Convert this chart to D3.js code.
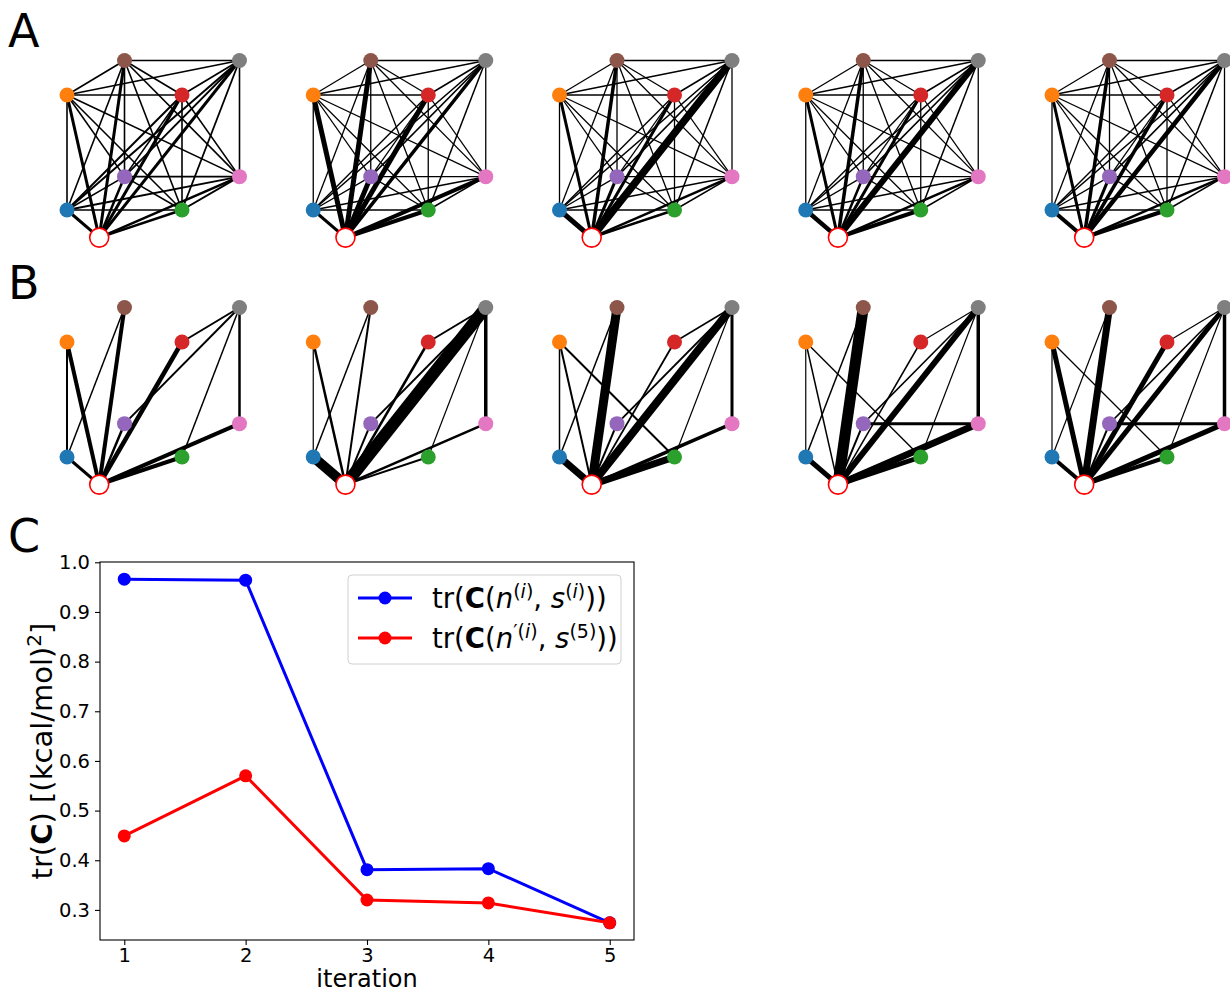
<!DOCTYPE html>
<html>
<head>
<meta charset="utf-8">
<script src="https://cdn.jsdelivr.net/npm/d3@7"></script>
<style>
  body { margin: 0; background: #fff; }
  svg { font-family: "DejaVu Sans", sans-serif; }
</style>
</head>
<body>
<svg id="fig" width="1230" height="992"></svg>
<script>
// graph nodes (layout coordinates of the network drawing)
const nodeNames = ["ref", "blue", "orange", "green", "red", "purple", "brown", "pink", "gray"];
const nodeX = [0.28, 0, 0, 1, 1, 0.5, 0.5, 1.5, 1.5];
const nodeY = [-0.24, 0, 1, 0, 1, 0.29, 1.3, 0.29, 1.3];
const nodeColors = ["#ffffff", "#1f77b4", "#ff7f0e", "#2ca02c", "#d62728", "#9467bd", "#8c564b", "#e377c2", "#7f7f7f"];

// row A: complete graph, weights of edges from ref to blue..gray
const ringWeightsA = [
  [3, 3, 2.5, 3, 2.5, 3, 2.5, 3],
  [3, 5, 4, 5, 5, 5, 4, 3.5],
  [5, 3, 2.5, 3, 3, 3.5, 2.5, 7.5],
  [4.5, 3, 4, 3, 2.5, 3.5, 2.5, 6],
  [4, 3, 4, 3.5, 3, 3.5, 2.5, 4.5]
];
// other pairs, in order Bl-Or Bl-Gr Bl-Rd Bl-Pu Bl-Br Bl-Pk Bl-Gy Or-Gr Or-Rd Or-Pu Or-Br Or-Pk Or-Gy
// Gr-Rd Gr-Pu Gr-Br Gr-Pk Gr-Gy Rd-Pu Rd-Br Rd-Pk Rd-Gy Pu-Br Pu-Pk Pu-Gy Br-Pk Br-Gy Pk-Gy
const otherWeightsA = [
  [1.6, 1.6, 2, 1.6, 1.6, 1.8, 2, 1.6, 1.6, 1.6, 1.6, 1.6, 1.6, 1.6, 1.6, 1.6, 2, 1.8, 1.6, 1.6, 1.6, 1.8, 1.6, 1.6, 1.8, 1.6, 1.6, 1.6],
  [1.3, 1.3, 1.5, 1.3, 1.3, 1.5, 1.6, 1.3, 1.3, 1.3, 1.3, 1.3, 1.3, 1.3, 1.3, 1.3, 1.6, 1.5, 1.3, 1.3, 1.3, 1.5, 1.3, 1.3, 1.6, 1.3, 1.3, 1.3],
  [1.3, 1.3, 1.5, 1.3, 1.3, 1.5, 1.6, 1.3, 1.3, 1.3, 1.3, 1.3, 1.3, 1.3, 1.3, 1.3, 1.5, 1.5, 1.3, 1.3, 1.3, 1.5, 1.3, 1.3, 1.6, 1.3, 1.3, 1.3],
  [1.3, 1.3, 1.5, 1.3, 1.3, 1.5, 1.6, 1.3, 1.3, 1.3, 1.3, 1.3, 1.3, 1.3, 1.3, 1.3, 1.5, 1.5, 1.3, 1.3, 1.3, 1.5, 1.3, 1.3, 1.6, 1.3, 1.3, 1.3],
  [1.3, 1.3, 1.5, 1.3, 1.3, 1.5, 1.6, 1.3, 1.3, 1.3, 1.3, 1.3, 1.3, 1.3, 1.3, 1.3, 1.5, 1.5, 1.3, 1.3, 1.3, 1.5, 1.3, 1.3, 1.6, 1.3, 1.3, 1.3]
];

// row B: sparse graphs [from, to, weight]
const edgesB1 = [
  ["ref", "blue", 3], ["ref", "orange", 4], ["ref", "brown", 4], ["ref", "red", 4.5], ["ref", "purple", 2.5],
  ["ref", "green", 4], ["ref", "pink", 4], ["blue", "orange", 2], ["blue", "brown", 1.5],
  ["gray", "red", 2], ["gray", "purple", 2], ["gray", "green", 1.5], ["gray", "pink", 2.5]
];
const edgesB2 = [
  ["ref", "blue", 10], ["ref", "orange", 2.5], ["ref", "brown", 2], ["ref", "red", 2.5], ["ref", "purple", 2],
  ["ref", "green", 2], ["ref", "pink", 2.5], ["ref", "gray", 12], ["blue", "orange", 1.2], ["blue", "brown", 1.5],
  ["gray", "red", 2], ["gray", "purple", 2], ["gray", "green", 1.2], ["gray", "pink", 3.5]
];
const edgesB3 = [
  ["ref", "blue", 7], ["ref", "orange", 2], ["ref", "brown", 9], ["ref", "red", 1.8], ["ref", "purple", 2],
  ["ref", "green", 7], ["ref", "pink", 3.5], ["ref", "gray", 8], ["blue", "orange", 1.5], ["blue", "brown", 1.5],
  ["orange", "green", 2], ["gray", "red", 1.5], ["gray", "purple", 1.8], ["gray", "green", 1.2], ["gray", "pink", 3]
];
const edgesB4 = [
  ["ref", "blue", 5], ["ref", "orange", 1.5], ["ref", "brown", 11], ["ref", "red", 1.5], ["ref", "purple", 2],
  ["ref", "green", 5], ["ref", "pink", 7], ["ref", "gray", 6], ["blue", "orange", 1.2], ["blue", "brown", 1.5],
  ["orange", "green", 1.5], ["gray", "red", 1.2], ["gray", "purple", 1.5], ["gray", "green", 1.2],
  ["gray", "pink", 3.5], ["purple", "pink", 3]
];
const edgesB5 = [
  ["ref", "blue", 4], ["ref", "orange", 5], ["ref", "brown", 7], ["ref", "red", 5], ["ref", "purple", 2],
  ["ref", "green", 4], ["ref", "pink", 5], ["ref", "gray", 5], ["blue", "orange", 1.2], ["blue", "brown", 1.2],
  ["orange", "green", 1.2], ["gray", "red", 1.2], ["gray", "purple", 1.5], ["gray", "green", 1.2],
  ["gray", "pink", 3.5], ["purple", "pink", 3]
];

// panel C: line chart
const iterations = [1, 2, 3, 4, 5];
const traceC = [0.966, 0.964, 0.381, 0.383, 0.274];
const traceCprime = [0.449, 0.570, 0.320, 0.314, 0.274];
const yTicks = [0.3, 0.4, 0.5, 0.6, 0.7, 0.8, 0.9, 1.0];
const xTicks = [1, 2, 3, 4, 5];

const svg = d3.select("#fig");

// build row A edges from the weight lists
const otherPairs = [];
for (let i = 1; i < 9; i++) for (let j = i + 1; j < 9; j++) otherPairs.push([i, j]);
const edgesA = ringWeightsA.map((rw, p) => {
  const e = rw.map((w, k) => [0, k + 1, w]);
  otherPairs.forEach((pr, k) => e.push([pr[0], pr[1], otherWeightsA[p][k]]));
  return e;
});
const idx = name => nodeNames.indexOf(name);
const edgesB = [edgesB1, edgesB2, edgesB3, edgesB4, edgesB5].map(list => list.map(d => [idx(d[0]), idx(d[1]), d[2]]));

const gx = d3.scaleLinear().domain([0, 1]).range([0, 115]);
const gy = d3.scaleLinear().domain([0, 1]).range([0, -115]);
const widthScale = d3.scaleLinear().domain([0, 1]).range([0, 1]);

function drawGraph(edges, ox, oy) {
  const g = svg.append("g").attr("transform", `translate(${ox},${oy})`);
  g.selectAll("line")
    .data(edges)
    .enter()
    .append("line")
    .attr("x1", d => gx(nodeX[d[0]]))
    .attr("y1", d => gy(nodeY[d[0]]))
    .attr("x2", d => gx(nodeX[d[1]]))
    .attr("y2", d => gy(nodeY[d[1]]))
    .attr("stroke", "#000")
    .attr("stroke-width", d => widthScale(d[2]));
  g.selectAll("circle")
    .data(nodeNames.map((n, i) => i))
    .enter()
    .append("circle")
    .attr("cx", i => gx(nodeX[i]))
    .attr("cy", i => gy(nodeY[i]))
    .attr("r", i => i === 0 ? 9.5 : 7.5)
    .attr("fill", i => nodeColors[i])
    .attr("stroke", i => i === 0 ? "#ff0000" : "none")
    .attr("stroke-width", 1.6);
}

edgesA.forEach((e, p) => drawGraph(e, 67 + p * 246.25, 210));
edgesB.forEach((e, p) => drawGraph(e, 67 + p * 246.25, 457));

// panel letters
[["A", 30], ["B", 282], ["C", 535]].forEach(([t, yy]) => {
  svg.append("text").attr("x", 8).attr("y", yy + 17).style("font-size", "46px").text(t);
});

// line chart
const plotLeft = 100, plotRight = 634, plotTop = 562, plotBottom = 940;
const x = d3.scaleLinear().domain([0.8, 5.2]).range([plotLeft, plotRight]);
const y = d3.scaleLinear().domain([0.2394, 1.0006]).range([plotBottom, plotTop]);

const xAxis = svg.append("g")
  .attr("transform", `translate(0,${plotBottom})`)
  .call(d3.axisBottom(x).tickValues(xTicks).tickFormat(d3.format("d")).tickSize(5).tickPadding(3));
const yAxis = svg.append("g")
  .attr("transform", `translate(${plotLeft},0)`)
  .call(d3.axisLeft(y).tickValues(yTicks).tickFormat(d3.format(".1f")).tickSize(5).tickPadding(5));
[xAxis, yAxis].forEach(a => {
  a.select(".domain").remove();
  a.selectAll("line").attr("stroke", "#000").attr("stroke-width", 1.1);
  a.selectAll("text").attr("fill", "#000").style("font-size", "19.5px").style("font-family", "DejaVu Sans");
});
svg.append("rect")
  .attr("x", plotLeft).attr("y", plotTop)
  .attr("width", plotRight - plotLeft).attr("height", plotBottom - plotTop)
  .attr("fill", "none").attr("stroke", "#000").attr("stroke-width", 1.1);

const line = d3.line().x((d, i) => x(iterations[i])).y(d => y(d));
[[traceC, "#0000ff"], [traceCprime, "#ff0000"]].forEach(([vals, col]) => {
  svg.append("path").datum(vals)
    .attr("d", line).attr("fill", "none").attr("stroke", col).attr("stroke-width", 3);
  svg.selectAll(null).data(vals).enter().append("circle")
    .attr("cx", (d, i) => x(iterations[i])).attr("cy", d => y(d))
    .attr("r", 6.5).attr("fill", col);
});

// axis labels
svg.append("text")
  .attr("x", (plotLeft + plotRight) / 2).attr("y", 987)
  .attr("text-anchor", "middle").style("font-size", "24px").text("iteration");

const yl = svg.append("text")
  .attr("transform", `translate(52,${(plotTop + plotBottom) / 2}) rotate(-90)`)
  .attr("text-anchor", "middle").style("font-size", "29px");
yl.append("tspan").text("tr(");
yl.append("tspan").style("font-weight", "bold").text("C");
yl.append("tspan").text(") [(kcal/mol)");
yl.append("tspan").attr("dy", -11).style("font-size", "20px").text("2");
yl.append("tspan").attr("dy", 11).text("]");

// legend
const lg = svg.append("g");
lg.append("rect")
  .attr("x", 348).attr("y", 575).attr("width", 273).attr("height", 89).attr("rx", 4)
  .attr("fill", "#fff").attr("fill-opacity", 0.8).attr("stroke", "#d0d0d0");

function legendEntry(yy, col, primed, sExp) {
  lg.append("line").attr("x1", 358).attr("x2", 412).attr("y1", yy).attr("y2", yy)
    .attr("stroke", col).attr("stroke-width", 3);
  lg.append("circle").attr("cx", 385).attr("cy", yy).attr("r", 6.5).attr("fill", col);
  const t = lg.append("text").attr("x", 432).attr("y", yy + 10).style("font-size", "27.5px");
  t.append("tspan").text("tr(");
  t.append("tspan").style("font-weight", "bold").text("C");
  t.append("tspan").text("(");
  t.append("tspan").style("font-style", "italic").text("n");
  if (primed) t.append("tspan").attr("dy", -10).style("font-size", "19px").text("\u2032(");
  else t.append("tspan").attr("dy", -10).style("font-size", "19px").text("(");
  t.append("tspan").style("font-size", "19px").style("font-style", "italic").text("i");
  t.append("tspan").style("font-size", "19px").text(")");
  t.append("tspan").attr("dy", 10).text(", ");
  t.append("tspan").style("font-style", "italic").text("s");
  if (sExp === "i") {
    t.append("tspan").attr("dy", -10).style("font-size", "19px").text("(");
    t.append("tspan").style("font-size", "19px").style("font-style", "italic").text("i");
    t.append("tspan").style("font-size", "19px").text(")");
  } else {
    t.append("tspan").attr("dy", -10).style("font-size", "19px").text("(" + sExp + ")");
  }
  t.append("tspan").attr("dy", 10).text("))");
}
legendEntry(598, "#0000ff", false, "i");
legendEntry(638, "#ff0000", true, "5");
</script>
</body>
</html>
